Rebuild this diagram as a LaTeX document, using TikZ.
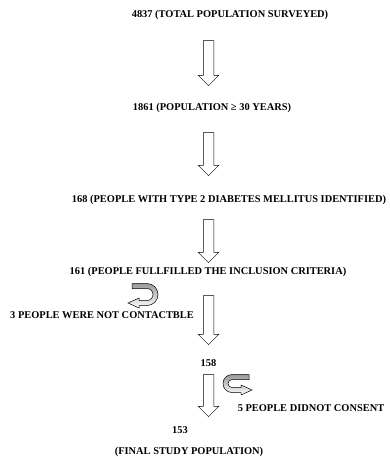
\documentclass[tikz,border=0pt]{standalone}
\usepackage{fontspec}
\setmainfont{Liberation Serif}
\usepackage{tikz}
\usetikzlibrary{shapes,calc}

\begin{document}
\begin{tikzpicture}[x=1pt,y=-1pt,txt/.style={font=\fontsize{10.4}{12}\selectfont\bfseries,inner sep=0pt},darr/.style={draw,fill=white,single arrow,shape border rotate=270,minimum width=20pt,single arrow head extend=5pt,single arrow head indent=0pt,inner sep=5pt,line width=0.5pt},uturn/.style={draw,line width=0.5pt,top color=gray!80,bottom color=white}]
\useasboundingbox (0,0) rectangle (390,457);
\node[txt](total) at (230,15){4837 (TOTAL POPULATION SURVEYED)}; \node[txt](adult) at (212,108){1861 (POPULATION ≥ 30 YEARS)};
\node[txt](diab) at (229,200){168 (PEOPLE WITH TYPE 2 DIABETES MELLITUS IDENTIFIED)}; \node[txt](incl) at (208,272){161 (PEOPLE FULLFILLED THE INCLUSION CRITERIA)};
\node[txt](lost) at (102,315){3 PEOPLE WERE NOT CONTACTBLE}; \node[txt](contact) at (208.5,363){158};
\node[txt](refused) at (311,408){5 PEOPLE DIDNOT CONSENT}; \node[txt](final) at (180,430){153}; \node[txt](finallbl) at (189,452){(FINAL STUDY POPULATION)};
\node[darr,minimum height=45pt](a1) at (208.5,60.5){}; \node[darr,minimum height=43pt](a2) at (208.5,151.5){};
\node[darr,minimum height=43pt](a3) at (208.5,238.5){}; \node[darr,minimum height=49pt](a4) at (208.5,317.5){}; \node[darr,minimum height=42pt](a5) at (208.5,393){};
\draw[uturn] (132,283.5) -- (147,283.5) arc[start angle=-90,end angle=90,radius=11] -- (139,305.5) -- (139,308) -- (128,303) -- (139,298) -- (139,300.5) -- (147,300.5) arc[start angle=90,end angle=-90,radius=6] -- (132,288.5) -- cycle;
\draw[uturn] (249,374.5) -- (232,374.5) arc[start angle=-90,end angle=-270,radius=9] -- (241,392.5) -- (241,395) -- (252,390) -- (241,385) -- (241,387.5) -- (232,387.5) arc[start angle=90,end angle=270,radius=4] -- (249,379.5) -- cycle;
\end{tikzpicture}
\end{document}
